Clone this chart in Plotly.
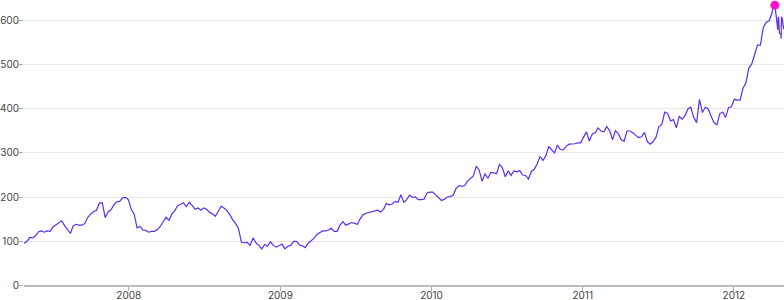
import pandas as pd
import plotly.graph_objects as go

# Weekly closes (Mondays)
close_2007 = [95, 99, 108, 107, 112, 121, 123, 120, 123, 122, 132, 137, 143, 146, 135,
              126, 117, 135, 138, 136, 136, 140, 154, 161, 167, 170, 186, 187, 153, 166,
              171, 182, 189, 190, 198, 199, 194]
close_2008 = [172, 161, 130, 133, 125, 124, 120, 122, 122, 126, 133, 143, 154, 147, 161,
              169, 180, 183, 187, 178, 188, 181, 172, 175, 170, 175, 172, 165, 162, 156,
              169, 179, 175, 169, 160, 148, 140, 128, 97, 96, 97, 90, 107, 96, 90,
              82, 92, 88, 98, 90, 86, 90]
close_2009 = [93, 82, 88, 90, 99, 99, 91, 89, 85, 95, 101, 106, 115, 119, 123, 123, 125,
              129, 122, 122, 136, 144, 136, 139, 142, 140, 138, 151, 160, 163, 165, 166,
              169, 170, 166, 172, 185, 182, 184, 190, 188, 205, 188, 194, 204, 199, 200,
              194, 194, 195, 209, 211]
close_2010 = [211, 205, 197, 192, 195, 200, 201, 204, 219, 226, 224, 226, 236, 241, 248,
              270, 261, 236, 253, 242, 256, 255, 253, 274, 267, 246, 259, 249, 259, 257,
              260, 250, 249, 241, 258, 263, 275, 292, 283, 294, 315, 307, 300, 318, 308,
              307, 315, 320, 320, 321, 323, 323]
close_2011 = [336, 348, 327, 343, 346, 357, 350, 348, 360, 351, 330, 351, 344, 330, 327,
              350, 350, 346, 340, 335, 337, 347, 326, 320, 326, 336, 360, 365, 393, 390,
              373, 376, 357, 383, 377, 385, 400, 404, 381, 369, 422, 392, 404, 400, 384,
              369, 364, 389, 393, 381, 403, 405]
close_2012_weekly = [422, 420, 420, 447, 459, 493, 502, 522, 545, 545, 585, 597, 600]
# Daily closes, April 2012
days_2012_apr = ["2012-04-02", "2012-04-03", "2012-04-04", "2012-04-05", "2012-04-09",
                 "2012-04-10", "2012-04-11", "2012-04-12", "2012-04-13", "2012-04-16",
                 "2012-04-17", "2012-04-18", "2012-04-19", "2012-04-20", "2012-04-23",
                 "2012-04-24", "2012-04-25", "2012-04-26", "2012-04-27", "2012-04-30",
                 "2012-05-01"]
close_2012_apr = [618, 629, 624, 633, 636, 628, 626, 622, 605, 580, 609, 608, 587, 572,
                  571, 560, 610, 607, 603, 583, 582]

y_ticks = [0, 100, 200, 300, 400, 500, 600]

segments = [("2007-04-23", close_2007), ("2008-01-07", close_2008),
            ("2009-01-05", close_2009), ("2010-01-04", close_2010),
            ("2011-01-03", close_2011), ("2012-01-02", close_2012_weekly)]
dates, closes = [], []
for start, vals in segments:
    dates += list(pd.date_range(start, periods=len(vals), freq="7D"))
    closes += vals
dates += list(pd.to_datetime(days_2012_apr))
closes += close_2012_apr

imax = max(range(len(closes)), key=lambda i: closes[i])

fig = go.Figure()
fig.add_trace(go.Scatter(x=dates, y=closes, mode="lines",
                         line=dict(color="#5a2ff5", width=1.2)))
fig.add_trace(go.Scatter(x=[dates[imax]], y=[closes[imax]], mode="markers",
                         marker=dict(color="#ff10cc", size=9), cliponaxis=False))

fig.update_layout(width=784, height=300, margin=dict(l=24, r=0, t=0, b=15),
                  showlegend=False, plot_bgcolor="white", paper_bgcolor="white",
                  font=dict(family="Inter", size=10, color="#444"))
fig.update_xaxes(range=["2007-04-23", "2012-05-01"], showgrid=False, showline=True,
                 linecolor="#bbbbbb", linewidth=2, ticks="outside", ticklen=4,
                 tickcolor="#aaaaaa", dtick="M12", tick0="2008-01-01", tickformat="%Y",
                 zeroline=False, automargin=False, ticklabelstandoff=-4)
fig.update_yaxes(range=[0, 647.7], tickvals=y_ticks, gridcolor="#e8e8e8",
                 ticks="outside", ticklen=4, tickcolor="#aaaaaa", zeroline=False,
                 showline=False, automargin=False, ticklabelstandoff=-2)

fig.write_html("out.html")
